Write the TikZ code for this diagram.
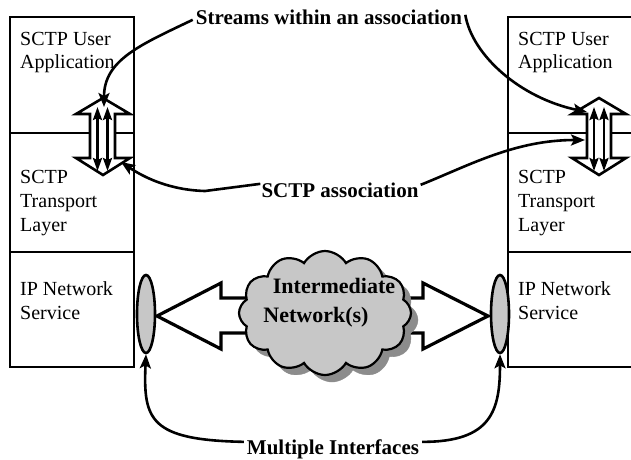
\documentclass[tikz,border=0pt]{standalone}
\usepackage{fontspec}
\setmainfont{Liberation Serif}
\usetikzlibrary{shapes.symbols,shapes.geometric,arrows.meta}
\begin{document}
\begin{tikzpicture}[x=1pt,y=-1pt,
  layer/.style={draw=black,line width=2pt},
  lbl/.style={anchor=base west,font=\fontsize{20}{20}\selectfont,inner sep=0pt},
  callout/.style={font=\bfseries\fontsize{21}{21}\selectfont,inner sep=1pt},
  hollow/.style={draw=black,fill=white,line width=3.2pt,line join=miter},
  pointer/.style={line width=2.6pt,-{Stealth[length=14pt,width=11pt,inset=3pt]}},
  stream/.style={line width=2.4pt,{Stealth[length=13pt,width=9pt,inset=2pt]}-{Stealth[length=13pt,width=9pt,inset=2pt]}},
  puffy/.style={cloud,cloud puffs=12,cloud puff arc=120,aspect=1.4,minimum width=172pt,minimum height=124pt},
  iface/.style={draw=black,fill=black!22,line width=2.6pt}]
\useasboundingbox (0,0) rectangle (631,459);
\fill[white] (0,0) rectangle (631,459);

% ---- left protocol stack ----
\draw[layer] (10,17) rectangle (134,367);
\draw[layer] (10,133) -- (134,133);
\draw[layer] (10,252) -- (134,252);
\node[lbl] (lapp1) at (20,45) {SCTP User};
\node[lbl] (lapp2) at (20,68) {Application};
\node[lbl] (ltr1) at (20,183) {SCTP};
\node[lbl] (ltr2) at (20,207) {Transport};
\node[lbl] (ltr3) at (20,231) {Layer};
\node[lbl] (lip1) at (20,295) {IP Network};
\node[lbl] (lip2) at (20,319) {Service};

% ---- right protocol stack ----
\draw[layer] (640,17) -- (508,17) -- (508,367) -- (640,367);
\draw[layer] (508,133) -- (640,133);
\draw[layer] (508,252) -- (640,252);
\node[lbl] (rapp1) at (518,45) {SCTP User};
\node[lbl] (rapp2) at (518,68) {Application};
\node[lbl] (rtr1) at (518,183) {SCTP};
\node[lbl] (rtr2) at (518,207) {Transport};
\node[lbl] (rtr3) at (518,231) {Layer};
\node[lbl] (rip1) at (518,295) {IP Network};
\node[lbl] (rip2) at (518,319) {Service};

% ---- hollow double arrows carrying the streams ----
\draw[hollow,line width=2.6pt] (103,98) -- (130,114) -- (115,114) -- (115,158) -- (130,158)
  -- (103,175) -- (76,158) -- (90,158) -- (90,114) -- (76,114) -- cycle;
\coordinate (ls1t) at (97.5,107); \coordinate (ls1b) at (97.5,171);
\coordinate (ls2t) at (107.5,107); \coordinate (ls2b) at (107.5,171);
\draw[stream] (ls1t) -- (ls1b);
\draw[stream] (ls2t) -- (ls2b);

\draw[hollow,line width=2.6pt] (599,98) -- (626,114) -- (611,114) -- (611,158) -- (626,158)
  -- (599,175) -- (572,158) -- (587,158) -- (587,114) -- (572,114) -- cycle;
\coordinate (rs1t) at (594,107); \coordinate (rs1b) at (594,171);
\coordinate (rs2t) at (604,107); \coordinate (rs2b) at (604,171);
\draw[stream] (rs1t) -- (rs1b);
\draw[stream] (rs2t) -- (rs2b);

% ---- hollow arrows from the network to the interfaces ----
\draw[hollow] (157,316) -- (221,283) -- (221,298) -- (423,298) -- (423,283) -- (488,316)
  -- (423,349) -- (423,333) -- (221,333) -- (221,349) -- cycle;

% ---- the intermediate network cloud ----
\node[puffy,fill=black!45,draw=black!45] (shadow) at (332,320) {};
\node[puffy,fill=black!22,draw=black,line width=2.2pt] (net) at (325,313) {};
\node[callout,font=\bfseries\fontsize{22}{22}\selectfont,anchor=base] (net1) at (334,293) {Intermediate};
\node[callout,font=\bfseries\fontsize{22}{22}\selectfont,anchor=base] (net2) at (316,322) {Network(s)};

% ---- interfaces ----
\node[ellipse,iface,minimum width=18pt,minimum height=78pt,inner sep=0pt] (lif) at (146,314) {};
\node[ellipse,iface,minimum width=18pt,minimum height=78pt,inner sep=0pt] (rif) at (500,314) {};

% ---- callouts ----
\node[callout,anchor=base] (streams) at (329,24) {Streams within an association};
\node[callout,anchor=base] (assoc) at (340,197) {SCTP association};
\node[callout,anchor=base] (ifaces) at (333,454) {Multiple Interfaces};

\coordinate (lsa) at (104,107);
\coordinate (rsa) at (587,112);
\coordinate (laa) at (121,162);
\coordinate (raa) at (585,140);

\draw[pointer] (streams.west) ++(-2,3) .. controls (140,45) and (104,60) .. (lsa);
\draw[pointer] (streams.east) ++(2,-2) .. controls (472,55) and (520,98) .. (rsa);
\draw[pointer] (assoc.west) ++(0,-6) -- (205,191) .. controls (170,190) and (145,178) .. (laa);
\draw[pointer] (assoc.east) ++(1,-5) .. controls (470,165) and (515,140) .. (raa);
\draw[pointer] (ifaces.west) ++(-2,-7) .. controls (150,440) and (143,420) .. (lif.south);
\draw[pointer] (ifaces.east) ++(2,-7) .. controls (492,442) and (500,410) .. (rif.south);
\end{tikzpicture}
\end{document}
